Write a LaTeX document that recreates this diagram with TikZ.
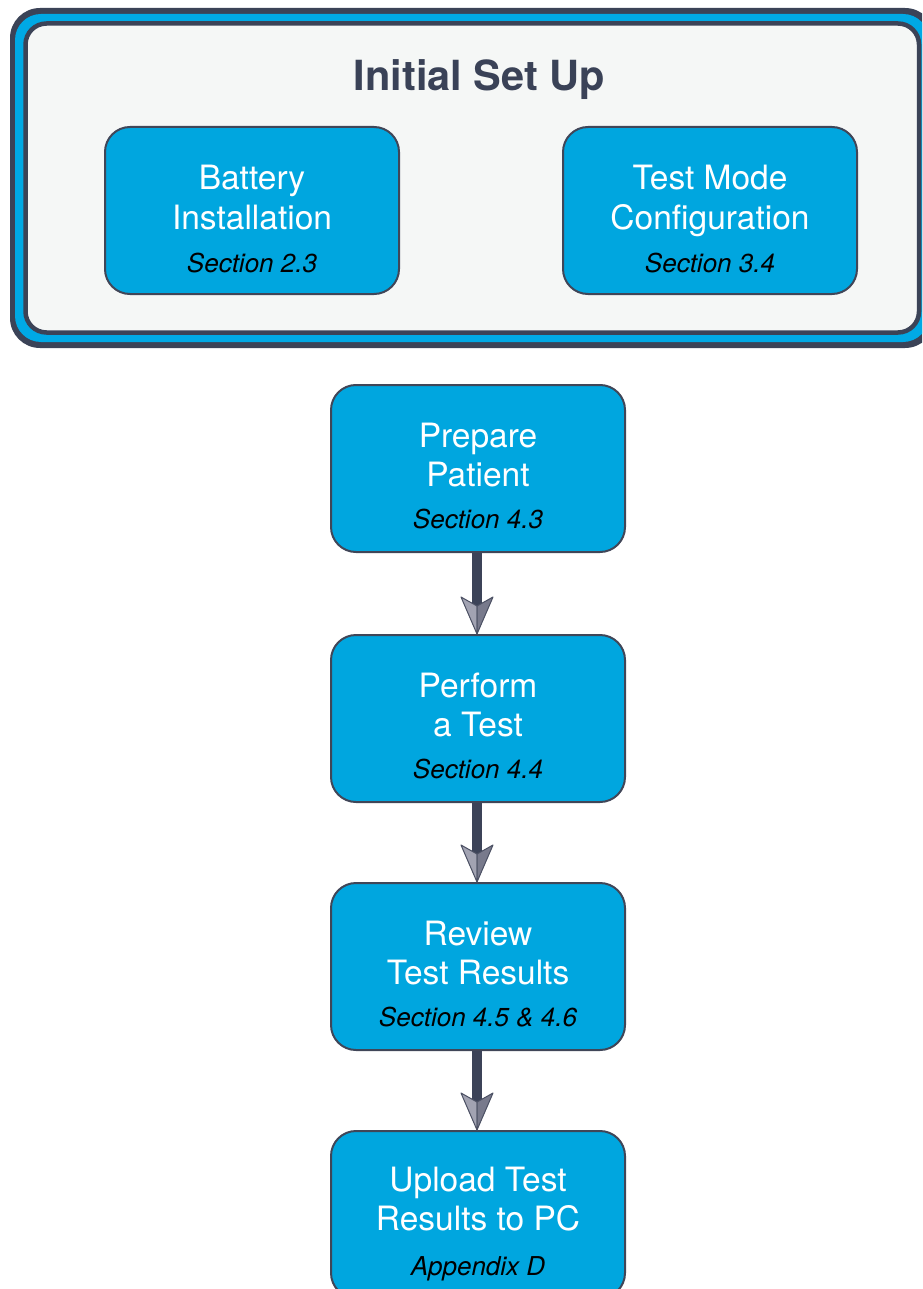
\documentclass[tikz,border=0pt]{standalone}
\usepackage{fontspec}
\setmainfont{TeX Gyre Heros}
\usetikzlibrary{arrows.meta}
\definecolor{framedark}{HTML}{3B4357}
\definecolor{frameblue}{HTML}{00A9E5}
\definecolor{innerfill}{HTML}{F5F7F6}
\definecolor{boxfill}{HTML}{00A6DF}
\definecolor{boxline}{HTML}{404658}
\definecolor{titlecol}{HTML}{3A4257}
\definecolor{shaftcol}{HTML}{3C4358}
\definecolor{headfill}{HTML}{8E90A1}
\definecolor{headlight}{HTML}{A2A3B2}
\definecolor{headdark}{HTML}{787A8C}
\definecolor{headline}{HTML}{4C5164}
\tikzset{
  stepbox/.style={draw=boxline, line width=2pt, fill=boxfill, rounded corners=25pt,
    minimum width=294pt, minimum height=167pt, inner sep=0pt, anchor=north},
  mainline/.style={font=\fontsize{33.5}{40}\selectfont, text=white, anchor=base},
  secline/.style={font=\fontsize{26}{30}\selectfont\itshape, text=black, anchor=base},
  flowarrow/.style={line width=10pt, draw=shaftcol,
    -{Stealth[length=37pt, width=32pt, inset=9pt, color=headline, fill=headfill, line width=1.2pt]}},
  facetL/.style={fill=headlight, draw=headline, line width=1pt, line join=round},
  facetR/.style={fill=headdark, draw=headline, line width=1pt, line join=round},
}
\begin{document}
\begin{tikzpicture}[x=1pt,y=-1pt]
\useasboundingbox (0,0) rectangle (922,1289);
\begin{scope}
\clip (0,0) rectangle (922,1289);
% frame
\fill[framedark, rounded corners=30pt] (10,8) rectangle (935,348);
\fill[frameblue, rounded corners=26pt] (15,14) rectangle (929,342);
\draw[framedark, line width=4.5pt, fill=innerfill, rounded corners=21pt] (25.5,23.5) rectangle (919,332.5);
\node[font=\fontsize{41.5}{48}\selectfont\bfseries, text=titlecol, anchor=base] (title) at (479.5,91) {Initial Set Up};
% top boxes
\node[stepbox] (bat) at (252,126) {};
\node[mainline] (bat1) at ([yshift=-64pt]bat.north) {Battery};
\node[mainline] (bat2) at ([yshift=-103.5pt]bat.north) {Installation};
\node[secline] (bat3) at ([yshift=-146pt]bat.north) {Section 2.3};
\node[stepbox] (tmc) at (710,126) {};
\node[mainline] (tmc1) at ([yshift=-64pt]tmc.north) {Test Mode};
\node[mainline] (tmc2) at ([yshift=-103.5pt]tmc.north) {Configuration};
\node[secline] (tmc3) at ([yshift=-146pt]tmc.north) {Section 3.4};
% flow boxes
\node[stepbox] (prep) at (478,384) {};
\node[mainline] (prep1) at ([yshift=-63pt]prep.north) {Prepare};
\node[mainline] (prep2) at ([yshift=-102pt]prep.north) {Patient};
\node[secline] (prep3) at ([yshift=-144pt]prep.north) {Section 4.3};
\node[stepbox] (perf) at (478,634) {};
\node[mainline] (perf1) at ([yshift=-63pt]perf.north) {Perform};
\node[mainline] (perf2) at ([yshift=-102pt]perf.north) {a Test};
\node[secline] (perf3) at ([yshift=-144pt]perf.north) {Section 4.4};
\node[stepbox] (rev) at (478,882) {};
\node[mainline] (rev1) at ([yshift=-63pt]rev.north) {Review};
\node[mainline] (rev2) at ([yshift=-102pt]rev.north) {Test Results};
\node[secline] (rev3) at ([yshift=-144pt]rev.north) {Section 4.5 \& 4.6};
\node[stepbox] (upl) at (478,1130) {};
\node[mainline] (upl1) at ([yshift=-61pt]upl.north) {Upload Test};
\node[mainline] (upl2) at ([yshift=-100pt]upl.north) {Results to PC};
\node[secline] (upl3) at ([yshift=-145pt]upl.north) {Appendix D};
% arrows
\foreach \a/\b in {prep/perf, perf/rev, rev/upl}{
  \draw[flowarrow] ([xshift=-1pt]\a.south) -- ([xshift=-1pt]\b.north);
  \filldraw[facetL] ([xshift=-1pt]\b.north) -- ++(-16,-37) -- ++(16,9) -- cycle;
  \filldraw[facetR] ([xshift=-1pt]\b.north) -- ++(16,-37) -- ++(-16,9) -- cycle;
}
\end{scope}
\end{tikzpicture}
\end{document}
